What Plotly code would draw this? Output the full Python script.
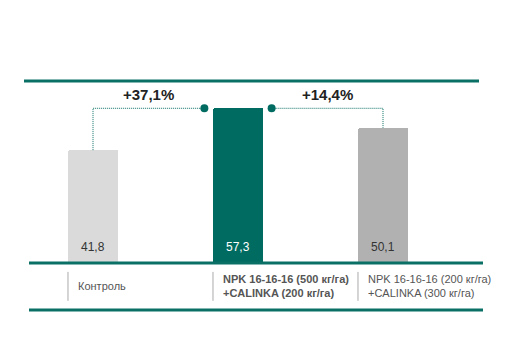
import plotly.graph_objects as go

categories = ["Контроль",
              "<b>NPK 16-16-16 (500 кг/га)<br>+CALINKA (200 кг/га)</b>",
              "NPK 16-16-16 (200 кг/га)<br>+CALINKA (300 кг/га)"]
values = [41.8, 57.3, 50.1]
bar_colors = ["#d9dad9", "#006b61", "#b1b1b1"]
value_font_colors = ["#333333", "#ffffff", "#333333"]
increase_labels = ["+37,1%", "+14,4%"]

TEAL = "#0a7065"
FONT = "Liberation Sans, Arial, sans-serif"
xs = list(range(len(values)))

fig = go.Figure()
fig.add_trace(go.Bar(x=xs, y=values, width=0.345, marker=dict(color=bar_colors, line=dict(width=0), cornerradius=2),
                     hoverinfo="skip", showlegend=False))

# connectors
dot_off = 0.232
c1x = [0, 0, 1 - dot_off]
c1y = [values[0], values[1], values[1]]
c2x = [1 + dot_off, 2, 2]
c2y = [values[1], values[1], values[2]]
for cx, cy in [(c1x, c1y), (c2x, c2y)]:
    fig.add_trace(go.Scatter(x=cx, y=cy, mode="lines",
                             line=dict(color=TEAL, width=1, dash="1px,1px"),
                             hoverinfo="skip", showlegend=False))
fig.add_trace(go.Scatter(x=[1 - dot_off, 1 + dot_off], y=[values[1], values[1]], mode="markers",
                         marker=dict(size=8, color="#006b61", line=dict(width=0)),
                         hoverinfo="skip", showlegend=False))

ann = []
# percent labels
ann.append(dict(x=(0 + 1 - dot_off) / 2, y=values[1], text="<b>%s</b>" % increase_labels[0], showarrow=False,
                yanchor="bottom", yshift=3, font=dict(size=15, color="#222222", family=FONT)))
ann.append(dict(x=(1 + dot_off + 2) / 2, y=values[1], text="<b>%s</b>" % increase_labels[1], showarrow=False,
                yanchor="bottom", yshift=3, font=dict(size=15, color="#222222", family=FONT)))
# value labels
for i, v in enumerate(values):
    ann.append(dict(x=i, y=0, text=("%.1f" % v).replace(".", ","), showarrow=False, yanchor="bottom",
                    yshift=7, font=dict(size=12, color=value_font_colors[i], family=FONT)))
# category labels
for i, c in enumerate(categories):
    ann.append(dict(x=i - 0.1725, y=-8.5, text=c, showarrow=False, xanchor="left", yanchor="middle",
                    xshift=8, align="left", font=dict(size=11, color="#555555", family=FONT)))

shapes = []
# top line
shapes.append(dict(type="line", xref="paper", yref="paper", x0=24 / 513, x1=479 / 513, y0=1 - 81 / 351, y1=1 - 81 / 351,
                   line=dict(color=TEAL, width=3)))
# baseline
shapes.append(dict(type="line", xref="paper", yref="y", x0=29 / 513, x1=483 / 513, y0=0, y1=0,
                   line=dict(color=TEAL, width=3)))
# bottom line
shapes.append(dict(type="line", xref="paper", yref="paper", x0=29 / 513, x1=483 / 513, y0=1 - 310 / 351, y1=1 - 310 / 351,
                   line=dict(color=TEAL, width=3)))
# separators
for i in xs:
    shapes.append(dict(type="line", xref="x", yref="y", x0=i - 0.1725, x1=i - 0.1725, y0=-3.3, y1=-14.0,
                       line=dict(color="#aaaaaa", width=1)))

scale = 2.70
ymax = 263 / scale
ymin = ymax - 351 / scale
xa = -93 / 145
xb = xa + 513 / 145

fig.update_layout(width=513, height=351, margin=dict(l=0, r=0, t=0, b=0),
                  paper_bgcolor="white", plot_bgcolor="white",
                  xaxis=dict(range=[xa, xb], visible=False, fixedrange=True),
                  yaxis=dict(range=[ymin, ymax], visible=False, fixedrange=True),
                  annotations=ann, shapes=shapes, font=dict(family=FONT), bargap=0)
fig.write_html("out.html")
